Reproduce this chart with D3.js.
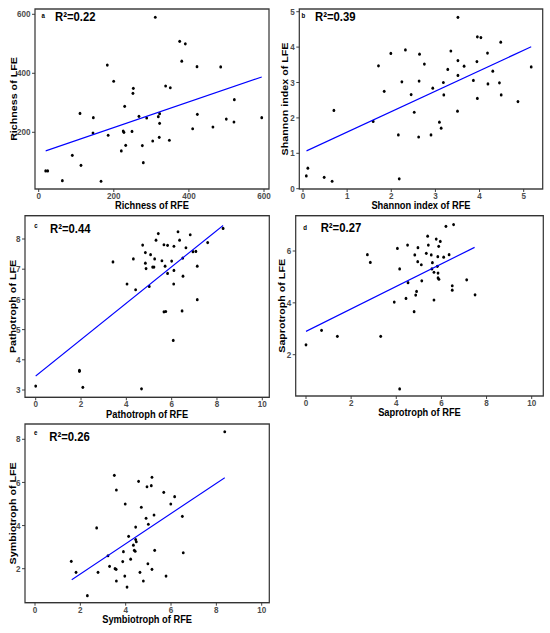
<!DOCTYPE html>
<html>
<head>
<meta charset="utf-8">
<script src="https://cdn.jsdelivr.net/npm/d3@7"></script>
<style>
  body { margin: 0; background: #fff; }
  text { font-family: "Liberation Sans", Arial, sans-serif; }
</style>
</head>
<body>
<div id="chart"></div>
<script>
// a: richness
const richRFE = [182.7, 199.7, 252, 251, 229, 110, 145.5, 267, 287.6, 144.6, 185, 225, 227, 248.5, 220, 231.7, 276, 278.6, 303.6, 89.5, 112.6, 18.6, 24, 63, 166, 310.5, 375.5, 390.5, 381, 421.6, 484.7, 338, 350.5, 521, 322, 318.5, 322, 422.5, 594, 499.6, 520, 464, 410, 321, 348];
const richLFE = [428, 373, 349, 332, 288, 264, 249.5, 254, 248.5, 197.6, 190, 204, 200, 203, 137, 156, 155, 97, 170.5, 122, 88, 69, 69, 36, 34, 590, 508.5, 500, 441, 422.5, 421.5, 357, 351, 310.5, 263, 253, 230.5, 261, 249.5, 245, 235, 218, 212, 183, 173];

// b: shannon
const shanRFE = [2.32, 1.99, 2.64, 1.71, 2.24, 2.63, 1.84, 2.45, 2.52, 0.70, 1.59, 2.16, 2.62, 0.11, 0.075, 0.48, 0.66, 2.18, 3.51, 3.95, 4.03, 4.48, 3.35, 4.18, 2.75, 3.51, 3.65, 3.94, 3.28, 5.17, 4.30, 3.51, 3.18, 3.86, 4.45, 4.19, 2.94, 3.19, 4.49, 3.95, 4.87, 3.50, 3.09, 3.13, 2.90];
const shanLFE = [3.92, 3.82, 3.80, 3.47, 3.02, 3.04, 2.75, 2.66, 2.16, 2.21, 1.90, 1.52, 1.46, 0.58, 0.36, 0.32, 0.21, 0.28, 4.84, 4.29, 4.27, 4.14, 3.89, 3.83, 3.52, 3.62, 3.46, 3.59, 3.37, 3.44, 3.32, 3.20, 3.00, 3.06, 2.99, 2.96, 2.84, 2.65, 2.65, 2.55, 2.46, 2.19, 1.88, 1.71, 1.52];

// c: pathotroph
const pathoRFE = [8.27, 6.28, 5.41, 6.82, 5.31, 6.35, 7.59, 4.72, 5.66, 5.82, 6.10, 6.63, 6.94, 7.07, 4.84, 5.07, 4.31, 5.25, 6.49, 3.41, 5.57, 6.00, 4.84, 5.16, 5.22, 5.71, 7.13, 4.87, 6.10, 5.82, 6.50, 4.03, 6.09, 5.01, 4.41, 7.13, 5.66, 5.74, 6.46, 0, 1.93, 1.93, 2.08, 4.67, 6.07];
const pathoLFE = [8.35, 8.24, 8.18, 8.14, 7.96, 7.96, 7.88, 7.80, 7.81, 7.79, 7.76, 7.71, 7.58, 7.59, 7.55, 7.48, 7.34, 7.34, 7.37, 7.24, 7.28, 7.27, 7.20, 7.07, 7.07, 7.10, 7.10, 7.02, 6.96, 6.86, 6.77, 6.51, 6.51, 6.43, 6.32, 5.99, 5.59, 5.60, 5.62, 3.13, 3.65, 3.62, 3.09, 3.04, 4.64];

// d: saprotroph
const saproRFE = [6.20, 6.54, 5.39, 5.77, 5.95, 4.50, 5.42, 4.05, 4.96, 5.88, 5.33, 5.55, 4.82, 5.84, 6.10, 6.34, 4.95, 5.11, 5.60, 5.82, 4.15, 5.58, 5.67, 5.85, 5.85, 5.89, 5.13, 4.52, 7.12, 6.48, 6.48, 4.90, 4.86, 7.49, 4.43, 5.67, 3.91, 4.79, 2.72, 2.85, 0, 0.69, 1.39, 3.31, 4.15];
const saproLFE = [6.95, 7.02, 6.57, 6.46, 6.37, 6.23, 6.23, 6.10, 6.13, 6.18, 5.91, 5.85, 5.85, 5.78, 5.76, 5.86, 5.59, 5.47, 5.55, 5.41, 5.31, 5.31, 5.18, 5.15, 4.96, 4.91, 4.85, 4.78, 4.89, 4.66, 4.49, 4.44, 4.30, 4.31, 4.17, 4.11, 4.03, 3.66, 5.86, 5.56, 2.38, 2.94, 2.71, 2.71, 0.68];

// e: symbiotroph
const symbRFE = [3.50, 5.16, 4.57, 4.94, 5.13, 3.59, 5.68, 6.16, 5.99, 3.98, 4.69, 6.50, 5.25, 4.90, 5.00, 2.72, 4.44, 4.13, 4.44, 4.47, 4.34, 4.38, 4.42, 5.28, 6.54, 3.90, 3.22, 4.22, 3.87, 4.98, 3.29, 3.53, 3.58, 5.16, 2.78, 4.63, 3.96, 5.78, 3.59, 4.78, 4.06, 1.60, 1.81, 2.31, 8.37];
const symbLFE = [6.33, 6.24, 6.05, 5.80, 5.85, 5.65, 5.54, 5.34, 5.00, 5.00, 4.85, 4.43, 4.49, 4.34, 4.06, 3.89, 3.93, 3.50, 3.35, 3.25, 3.09, 2.85, 2.81, 2.85, 2.74, 2.79, 2.60, 2.44, 2.33, 2.23, 2.11, 2.00, 1.97, 1.97, 1.83, 1.83, 1.66, 1.66, 1.43, 1.43, 1.15, 2.34, 1.83, 0.75, 8.35];

// fitted lines (start, end)
const fitA = [[18.6, 137], [594, 387.5]];
const fitB = [[0.08, 1.07], [5.17, 4.01]];
const fitC = [[0, 3.46], [8.27, 8.45]];
const fitD = [[0, 2.90], [7.47, 6.14]];
const fitE = [[1.62, 1.49], [8.37, 6.22]];

const r2Values = ["0.22", "0.39", "0.44", "0.27", "0.26"];
const panelTags = ["a", "b", "c", "d", "e"];
const xTitles = ["Richness of RFE", "Shannon index of RFE", "Pathotroph of RFE", "Saprotroph of RFE", "Symbiotroph of RFE"];
const yTitles = ["Richness of LFE", "Shannon index of LFE", "Pathotroph of LFE", "Saprotroph of LFE", "Symbiotroph of LFE"];

const ticksA = { x: [0, 200, 400, 600], y: [200, 400, 600] };
const ticksB = { x: [0, 1, 2, 3, 4, 5], y: [0, 1, 2, 3, 4, 5] };
const ticksC = { x: [0, 2, 4, 6, 8, 10], y: [3, 4, 5, 6, 7, 8] };
const ticksD = { x: [0, 2, 4, 6, 8, 10], y: [2, 4, 6] };
const ticksE = { x: [0, 2, 4, 6, 8, 10], y: [2, 4, 6, 8] };

// the reference is squeezed horizontally; draw in wider units and squash
const SQ = 0.87;
const W = 550, H = 633;
const X = px => px / SQ;

const svg = d3.select("#chart").append("svg")
  .attr("width", W).attr("height", H)
  .attr("viewBox", `0 0 ${W / SQ} ${H}`)
  .attr("preserveAspectRatio", "none");

// layout in screen px: frame [l, r, t, b], scale anchors
const panels = [
  { xs: richRFE, ys: richLFE, fit: fitA, ticks: ticksA, frame: [35, 269, 9, 189],
    xa: [0, 600, 38.7, 264], ya: [200, 600, 132.3, 14.3], yTitleX: 16.7, tag: [43.3, 15], r2: [55, 16.7] },
  { xs: shanRFE, ys: shanLFE, fit: fitB, ticks: ticksB, frame: [299.3, 542.7, 9, 189],
    xa: [0, 5, 303, 523.7], ya: [0, 5, 188.7, 11.7], yTitleX: 288, tag: [303.3, 15], r2: [315, 16.7] },
  { xs: pathoRFE, ys: pathoLFE, fit: fitC, ticks: ticksC, frame: [25, 269.3, 215.7, 397.3],
    xa: [0, 10, 35.7, 262.3], ya: [3, 8, 390, 239], yTitleX: 15.5, tag: [36, 225], r2: [50, 228.3] },
  { xs: saproRFE, ys: saproLFE, fit: fitD, ticks: ticksD, frame: [295.7, 543.3, 215.7, 396],
    xa: [0, 10, 306, 531.7], ya: [2, 6, 354.7, 251], yTitleX: 285, tag: [305, 227.3], r2: [320.7, 227.3] },
  { xs: symbRFE, ys: symbLFE, fit: fitE, ticks: ticksE, frame: [25, 269.3, 424, 602.7],
    xa: [0, 10, 35, 261.7], ya: [2, 8, 568.7, 439.3], yTitleX: 15.5, tag: [35.7, 432.3], r2: [49.3, 436.7] }
];

panels.forEach((p, i) => {
  const [l, r, t, b] = p.frame;
  const x = d3.scaleLinear().domain([p.xa[0], p.xa[1]]).range([X(p.xa[2]), X(p.xa[3])]);
  const y = d3.scaleLinear().domain([p.ya[0], p.ya[1]]).range([p.ya[2], p.ya[3]]);
  const g = svg.append("g");

  // x axis ticks + labels
  g.selectAll(".xt").data(p.ticks.x).join("line")
    .attr("x1", d => x(d)).attr("x2", d => x(d))
    .attr("y1", b).attr("y2", b + 3)
    .attr("stroke", "#333").attr("stroke-width", 1);
  g.selectAll(".xl").data(p.ticks.x).join("text")
    .attr("x", d => x(d)).attr("y", b + 10)
    .attr("text-anchor", "middle")
    .style("font-size", "9.3px").style("font-weight", "bold").style("fill", "#4d4d4d")
    .text(d => d);

  // y axis ticks + labels
  g.selectAll(".yt").data(p.ticks.y).join("line")
    .attr("x1", X(l - 3)).attr("x2", X(l))
    .attr("y1", d => y(d)).attr("y2", d => y(d))
    .attr("stroke", "#333").attr("stroke-width", 1);
  g.selectAll(".yl").data(p.ticks.y).join("text")
    .attr("x", X(l - 4.5)).attr("y", d => y(d))
    .attr("text-anchor", "end").attr("dominant-baseline", "central")
    .style("font-size", "9.3px").style("font-weight", "bold").style("fill", "#4d4d4d")
    .text(d => d);

  // points
  g.selectAll("circle").data(p.xs.map((v, k) => [v, p.ys[k]])).join("circle")
    .attr("cx", d => x(d[0])).attr("cy", d => y(d[1]))
    .attr("r", 1.6).attr("fill", "#000");

  // fitted line
  g.append("line")
    .attr("x1", x(p.fit[0][0])).attr("y1", y(p.fit[0][1]))
    .attr("x2", x(p.fit[1][0])).attr("y2", y(p.fit[1][1]))
    .attr("stroke", "#0000ff").attr("stroke-width", 1.2);

  // frame
  g.append("rect")
    .attr("x", X(l)).attr("y", t)
    .attr("width", X(r) - X(l)).attr("height", b - t)
    .attr("fill", "none").attr("stroke", "#333").attr("stroke-width", 1.4);

  // tag and R2
  g.append("text")
    .attr("x", X(p.tag[0])).attr("y", p.tag[1])
    .attr("text-anchor", "middle").attr("dominant-baseline", "central")
    .style("font-size", "7px").style("font-weight", "bold")
    .text(panelTags[i]);
  g.append("text")
    .attr("x", X(p.r2[0])).attr("y", p.r2[1])
    .attr("dominant-baseline", "central")
    .style("font-size", "13px").style("font-weight", "bold")
    .text(`R²=${r2Values[i]}`);

  // axis titles
  g.append("text")
    .attr("x", X((l + r) / 2)).attr("y", b + 20.5)
    .attr("text-anchor", "middle")
    .style("font-size", "10.7px").style("font-weight", "bold")
    .text(xTitles[i]);
  g.append("text")
    .attr("transform", `translate(${X(p.yTitleX)},${(t + b) / 2}) rotate(-90)`)
    .attr("text-anchor", "middle")
    .style("font-size", "10.7px").style("font-weight", "bold")
    .text(yTitles[i]);
});
</script>
</body>
</html>
